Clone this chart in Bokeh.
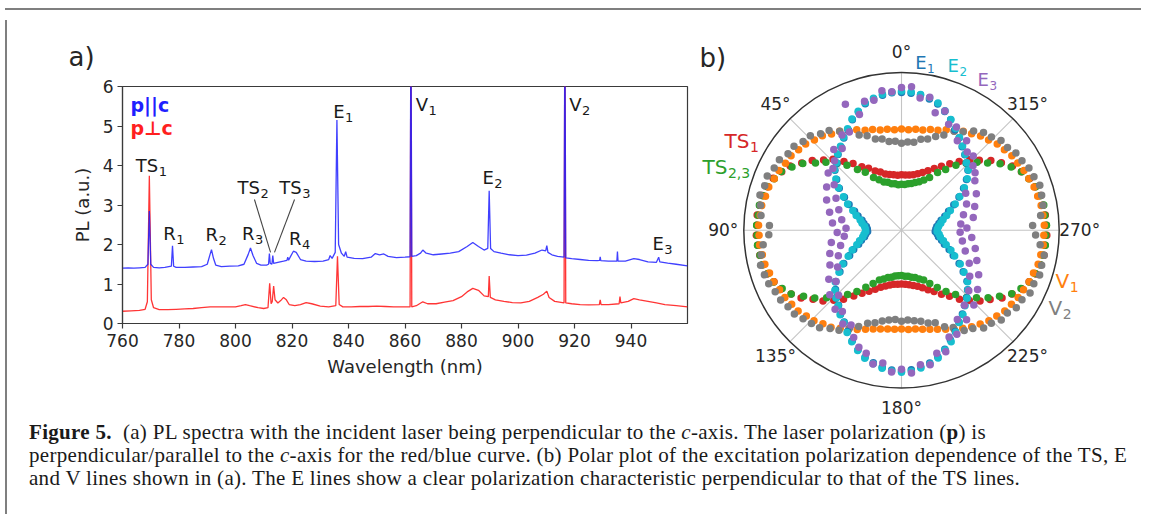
import numpy as np
from bokeh.plotting import figure
from bokeh.models import Range1d, FixedTicker, Div, Spacer
from bokeh.layouts import row, column
from bokeh.embed import file_html
from bokeh.resources import INLINE
from bokeh.core.properties import value

# ---------------- data: panel (a) PL spectra ----------------
blue_wl = [760.0, 762.0, 764.0, 766.0, 768.0, 769.0, 769.5, 770.0, 771.0, 773.0, 775.0,
           777.3, 777.7, 778.1, 779.0, 782.0, 785.0, 788.0, 790.0, 791.0, 791.5, 792.2,
           793.0, 795.0, 798.0, 801.0, 803.0, 804.5, 805.3, 806.2, 807.5, 809.0, 811.0,
           811.7, 812.0, 812.3, 812.9, 813.2, 813.5, 815.0, 817.0, 818.2, 818.5, 818.8,
           819.5, 820.5, 821.5, 823.0, 825.0, 828.0, 831.0, 833.0, 833.5, 834.2, 835.3,
           835.9, 836.5, 837.5, 838.5, 839.0, 839.5, 842.0, 845.0, 848.0, 849.5, 851.0,
           852.5, 854.0, 857.0, 860.0, 861.8, 862.1, 862.4, 864.0, 865.5, 866.3, 867.5,
           870.0, 873.0, 876.0, 879.0, 882.0, 884.0, 886.0, 888.0, 889.3, 889.8, 890.3,
           891.5, 894.0, 897.0, 900.0, 903.0, 906.0, 908.5, 909.8, 910.2, 910.6, 912.0,
           914.0, 916.3, 916.6, 916.9, 919.0, 922.0, 925.0, 928.0, 928.9, 929.1, 929.3,
           932.0, 935.0, 935.2, 935.4, 938.0, 941.0, 943.0, 946.0, 949.0, 949.8, 950.2,
           953.0, 956.0, 960.0]
blue_pl = [1.40, 1.41, 1.40, 1.41, 1.42, 1.50, 2.85, 1.50, 1.42, 1.41, 1.42,
           1.45, 1.97, 1.45, 1.42, 1.42, 1.43, 1.44, 1.50, 1.75, 1.87, 1.65,
           1.48, 1.44, 1.45, 1.46, 1.50, 1.75, 1.91, 1.72, 1.52, 1.48, 1.48,
           1.50, 1.77, 1.52, 1.50, 1.72, 1.52, 1.55, 1.58, 1.60, 1.68, 1.60,
           1.70, 1.83, 1.80, 1.62, 1.58, 1.57, 1.58, 1.62, 1.72, 1.65, 1.80,
           5.15, 2.00, 1.78, 1.70, 1.82, 1.68, 1.65, 1.64, 1.68, 1.77, 1.74,
           1.76, 1.70, 1.67, 1.68, 1.69, 8.00, 1.70, 1.72, 1.78, 1.86, 1.78,
           1.74, 1.76, 1.78, 1.82, 1.95, 2.05, 1.95, 1.86, 1.90, 3.36, 1.90,
           1.82, 1.78, 1.74, 1.72, 1.73, 1.78, 1.86, 1.84, 1.97, 1.80, 1.74,
           1.70, 1.68, 8.00, 1.66, 1.64, 1.62, 1.60, 1.59, 1.60, 1.69, 1.59,
           1.58, 1.58, 1.82, 1.58, 1.58, 1.64, 1.62, 1.56, 1.55, 1.68, 1.56,
           1.53, 1.50, 1.46]

red_wl = [760.0, 763.0, 766.0, 768.0, 768.8, 769.5, 770.2, 771.0, 773.0, 776.0, 779.0,
          782.0, 785.0, 788.0, 791.0, 794.0, 797.0, 800.0, 802.0, 803.5, 805.0, 808.0,
          810.0, 811.5, 812.1, 812.6, 813.0, 813.5, 814.0, 815.0, 816.0, 817.0, 818.0,
          819.0, 821.0, 823.0, 825.0, 827.0, 830.0, 833.0, 835.5, 836.1, 836.7, 838.0,
          841.0, 844.0, 847.0, 850.0, 853.0, 856.0, 859.0, 861.8, 862.1, 862.4, 864.0,
          866.3, 868.0, 871.0, 874.0, 877.0, 880.0, 882.0, 884.0, 886.0, 888.0, 889.5,
          889.8, 890.2, 892.0, 895.0, 898.0, 901.0, 904.0, 907.0, 909.0, 910.2, 911.0,
          913.0, 916.3, 916.6, 916.9, 919.0, 922.0, 925.0, 928.8, 929.1, 929.4, 932.0,
          935.8, 936.1, 936.4, 939.0, 941.0, 943.0, 946.0, 949.0, 952.0, 956.0, 960.0]
red_pl = [0.31, 0.32, 0.33, 0.36, 0.55, 3.74, 0.60, 0.40, 0.35, 0.35, 0.36,
          0.37, 0.38, 0.40, 0.42, 0.42, 0.42, 0.42, 0.45, 0.48, 0.45, 0.40,
          0.38, 0.40, 1.02, 0.50, 0.55, 0.95, 0.60, 0.52, 0.58, 0.66, 0.60,
          0.48, 0.45, 0.48, 0.53, 0.50, 0.44, 0.42, 0.45, 1.70, 0.48, 0.42,
          0.42, 0.43, 0.43, 0.44, 0.43, 0.42, 0.42, 0.42, 8.00, 0.42, 0.45,
          0.55, 0.50, 0.50, 0.54, 0.58, 0.68, 0.80, 0.89, 0.84, 0.70, 0.68,
          1.20, 0.66, 0.60, 0.56, 0.53, 0.52, 0.56, 0.66, 0.74, 0.82, 0.66,
          0.56, 0.52, 8.00, 0.52, 0.50, 0.48, 0.47, 0.48, 0.60, 0.48, 0.48,
          0.50, 0.68, 0.52, 0.56, 0.63, 0.60, 0.56, 0.52, 0.48, 0.45, 0.42]

x_ticks = [760, 780, 800, 820, 840, 860, 880, 900, 920, 940]
y_ticks = [0, 1, 2, 3, 4, 5, 6]

peak_names = ["TS", "R", "R", "R", "R", "TS", "TS", "E", "V", "E", "V", "E"]
peak_subs = ["1", "1", "2", "3", "4", "2", "3", "1", "1", "2", "2", "3"]

# ---------------- data: panel (b) polar (normalised PL vs angle) ----------------
angles_deg = list(range(0, 360, 4))

r_ts1 = [0.352, 0.349, 0.355, 0.361, 0.370, 0.392, 0.411, 0.445, 0.475, 0.523, 0.568, 0.625, 0.665, 0.718, 0.763, 0.815, 0.845, 0.878, 0.893, 0.910, 0.913, 0.920, 0.918,
         0.921, 0.916, 0.912, 0.906, 0.897, 0.872, 0.850, 0.808, 0.768, 0.712, 0.670, 0.618, 0.572, 0.515, 0.472, 0.438, 0.410, 0.385, 0.368, 0.355, 0.346, 0.343,
         0.341, 0.344, 0.349, 0.358, 0.369, 0.388, 0.414, 0.440, 0.479, 0.518, 0.572, 0.619, 0.670, 0.713, 0.769, 0.810, 0.851, 0.873, 0.897, 0.906, 0.917, 0.915, 0.922,
         0.919, 0.917, 0.911, 0.909, 0.892, 0.877, 0.846, 0.813, 0.764, 0.719, 0.664, 0.624, 0.569, 0.521, 0.478, 0.443, 0.412, 0.389, 0.373, 0.359, 0.354, 0.351]
r_ts23 = [0.292, 0.289, 0.298, 0.301, 0.316, 0.326, 0.350, 0.378, 0.433, 0.475, 0.538, 0.589, 0.645, 0.692, 0.755, 0.802, 0.848, 0.870, 0.896, 0.904, 0.915, 0.914, 0.919,
          0.917, 0.918, 0.911, 0.908, 0.890, 0.875, 0.842, 0.808, 0.749, 0.698, 0.639, 0.595, 0.532, 0.481, 0.427, 0.383, 0.345, 0.330, 0.312, 0.305, 0.294, 0.290,
          0.288, 0.293, 0.295, 0.305, 0.312, 0.330, 0.345, 0.382, 0.428, 0.480, 0.533, 0.594, 0.640, 0.697, 0.750, 0.807, 0.843, 0.875, 0.891, 0.907, 0.911, 0.917, 0.916,
          0.920, 0.914, 0.916, 0.905, 0.894, 0.871, 0.847, 0.803, 0.754, 0.693, 0.644, 0.590, 0.537, 0.476, 0.432, 0.379, 0.349, 0.327, 0.315, 0.302, 0.297, 0.290]
r_e1 = [0.873, 0.874, 0.864, 0.850, 0.834, 0.798, 0.766, 0.722, 0.690, 0.652, 0.626, 0.590, 0.568, 0.522, 0.476, 0.418, 0.370, 0.321, 0.290, 0.258, 0.242, 0.224, 0.217,
        0.215, 0.228, 0.238, 0.262, 0.286, 0.327, 0.366, 0.423, 0.471, 0.528, 0.563, 0.596, 0.621, 0.658, 0.686, 0.728, 0.768, 0.806, 0.838, 0.860, 0.878, 0.889,
        0.893, 0.887, 0.876, 0.861, 0.836, 0.803, 0.761, 0.727, 0.686, 0.657, 0.621, 0.595, 0.564, 0.527, 0.472, 0.422, 0.365, 0.326, 0.286, 0.262, 0.238, 0.228, 0.214,
        0.218, 0.225, 0.241, 0.259, 0.289, 0.322, 0.369, 0.421, 0.475, 0.523, 0.567, 0.592, 0.625, 0.654, 0.689, 0.722, 0.766, 0.801, 0.833, 0.851, 0.865, 0.871]
r_e2 = [0.882, 0.877, 0.871, 0.855, 0.840, 0.803, 0.772, 0.728, 0.695, 0.658, 0.630, 0.594, 0.572, 0.528, 0.482, 0.425, 0.380, 0.333, 0.302, 0.270, 0.254, 0.236, 0.229,
        0.227, 0.239, 0.250, 0.274, 0.298, 0.337, 0.376, 0.430, 0.478, 0.533, 0.568, 0.598, 0.626, 0.662, 0.690, 0.735, 0.775, 0.812, 0.845, 0.866, 0.884, 0.895,
        0.900, 0.896, 0.883, 0.868, 0.843, 0.808, 0.774, 0.733, 0.691, 0.663, 0.626, 0.599, 0.567, 0.532, 0.478, 0.430, 0.375, 0.338, 0.298, 0.274, 0.250, 0.240, 0.226,
        0.228, 0.237, 0.253, 0.271, 0.301, 0.334, 0.379, 0.427, 0.481, 0.529, 0.571, 0.595, 0.629, 0.659, 0.694, 0.731, 0.769, 0.806, 0.839, 0.858, 0.869, 0.879]
r_e3 = [0.905, 0.880, 0.893, 0.842, 0.851, 0.780, 0.875, 0.705, 0.712, 0.640, 0.668, 0.612, 0.585, 0.590, 0.515, 0.548, 0.462, 0.512, 0.418, 0.470, 0.385, 0.440, 0.352,
        0.408, 0.365, 0.452, 0.398, 0.478, 0.432, 0.505, 0.468, 0.556, 0.528, 0.612, 0.574, 0.655, 0.638, 0.702, 0.681, 0.745, 0.790, 0.812, 0.868, 0.851, 0.902,
        0.882, 0.908, 0.861, 0.872, 0.812, 0.821, 0.742, 0.748, 0.668, 0.702, 0.621, 0.660, 0.574, 0.612, 0.522, 0.565, 0.478, 0.515, 0.425, 0.482, 0.392, 0.448, 0.372,
        0.415, 0.378, 0.462, 0.405, 0.488, 0.445, 0.528, 0.470, 0.561, 0.592, 0.610, 0.655, 0.648, 0.702, 0.668, 0.742, 0.735, 0.805, 0.775, 0.862, 0.846, 0.912]
r_v1 = [0.642, 0.638, 0.647, 0.650, 0.665, 0.675, 0.698, 0.712, 0.740, 0.755, 0.781, 0.795, 0.818, 0.828, 0.845, 0.850, 0.865, 0.870, 0.885, 0.889, 0.900, 0.901, 0.907,
        0.904, 0.905, 0.896, 0.893, 0.880, 0.874, 0.860, 0.854, 0.840, 0.832, 0.812, 0.799, 0.775, 0.760, 0.733, 0.712, 0.690, 0.668, 0.652, 0.641, 0.632, 0.630,
        0.627, 0.631, 0.633, 0.642, 0.654, 0.668, 0.688, 0.710, 0.733, 0.757, 0.776, 0.798, 0.813, 0.831, 0.841, 0.854, 0.861, 0.874, 0.880, 0.893, 0.897, 0.904, 0.903,
        0.906, 0.902, 0.899, 0.890, 0.884, 0.871, 0.864, 0.851, 0.844, 0.828, 0.817, 0.795, 0.780, 0.756, 0.739, 0.713, 0.697, 0.675, 0.665, 0.650, 0.646, 0.639]
r_v2 = [0.552, 0.566, 0.568, 0.592, 0.601, 0.638, 0.660, 0.712, 0.740, 0.781, 0.798, 0.832, 0.840, 0.865, 0.868, 0.894, 0.898, 0.918, 0.912, 0.925, 0.908, 0.896, 0.838,
        0.842, 0.882, 0.903, 0.921, 0.914, 0.908, 0.891, 0.885, 0.868, 0.862, 0.840, 0.822, 0.808, 0.771, 0.748, 0.700, 0.668, 0.628, 0.610, 0.588, 0.575, 0.568,
        0.578, 0.571, 0.580, 0.590, 0.612, 0.625, 0.671, 0.698, 0.750, 0.770, 0.810, 0.820, 0.851, 0.852, 0.878, 0.882, 0.907, 0.905, 0.921, 0.916, 0.919, 0.884, 0.851,
        0.832, 0.887, 0.911, 0.916, 0.922, 0.906, 0.899, 0.882, 0.875, 0.853, 0.849, 0.821, 0.809, 0.778, 0.737, 0.710, 0.660, 0.633, 0.602, 0.590, 0.563, 0.561]

polar_tick_deg = [0, 45, 90, 135, 180, 225, 270, 315]
polar_tick_labels = ["0°", "45°", "90°", "135°", "180°", "225°", "270°", "315°"]

series_names = ["TS", "TS", "V", "V", "E", "E", "E"]
series_subs = ["1", "2,3", "1", "2", "1", "2", "3"]

# ---------------- styling ----------------
FONT = "DejaVu Sans"
TXT = "#262626"
C_TS1, C_TS23, C_E1, C_E2, C_E3, C_V1, C_V2 = ("#d62728", "#2ca02c", "#1f77b4", "#17becf",
                                                "#9467bd", "#ff7f0e", "#7f7f7f")
ADV = {"T": 0.611, "S": 0.635, "E": 0.632, "R": 0.695, "V": 0.684}


def text_w(s, size):
    return sum(ADV.get(ch, 0.6) for ch in s) * size


def sub_label(p, x, y, main, sub, color, size, sub_size):
    p.text(x=[x], y=[y], text=[main], y_offset=-2, text_font=value(FONT), text_font_size=f"{size}px",
           text_align="left", text_baseline="middle", text_color=color)
    p.text(x=[x], y=[y], text=[sub], x_offset=text_w(main, size) + 0.5, y_offset=size * 0.33 - 2,
           text_font=value(FONT), text_font_size=f"{sub_size}px",
           text_align="left", text_baseline="middle", text_color=color)


# ---------------- panel (a) ----------------
pa = figure(width=680, height=400, x_range=Range1d(760, 960), y_range=Range1d(0, 6),
            output_backend="svg", toolbar_location=None, title="a)",
            min_border_left=110, min_border_right=5, min_border_top=71, min_border_bottom=92)
pa.frame_align = False
pa.title.text_font = FONT
pa.title.text_font_size = "26px"
pa.title.text_font_style = "normal"
pa.title.text_color = TXT
pa.title.align = "left"
pa.title.offset = -54
pa.title.standoff = 29
pa.grid.visible = False
pa.outline_line_color = "#3a3a3a"
pa.outline_line_width = 1.2
pa.xaxis.ticker = FixedTicker(ticks=x_ticks)
pa.yaxis.ticker = FixedTicker(ticks=y_ticks)
pa.xaxis.axis_label = "Wavelength (nm)"
pa.yaxis.axis_label = "PL (a.u.)"
for ax in (pa.xaxis[0], pa.yaxis[0]):
    ax.major_label_text_font = FONT
    ax.major_label_text_font_size = "17px"
    ax.major_label_text_color = TXT
    ax.axis_label_text_font = FONT
    ax.axis_label_text_font_size = "18px"
    ax.axis_label_text_font_style = "normal"
    ax.axis_label_text_color = TXT
    ax.major_tick_out = 5
    ax.major_tick_in = 0
    ax.minor_tick_out = 0
    ax.minor_tick_in = 0
    ax.axis_line_color = "#3a3a3a"
    ax.axis_line_width = 1.2
    ax.major_tick_line_color = "#3a3a3a"
    ax.major_tick_line_width = 1.2
pa.xaxis.major_label_standoff = 5
pa.yaxis.major_label_standoff = 4
pa.xaxis.axis_label_standoff = 6
pa.yaxis.axis_label_standoff = 7

pa.line(red_wl, red_pl, line_color="#ff1f1f", line_width=1.3, line_alpha=0.9)
pa.line(blue_wl, blue_pl, line_color="#1f1fff", line_width=1.3, line_alpha=0.85)

# peak labels (positions: layout)
lab_x = [764.7, 774.4, 789.4, 802.3, 818.9, 800.7, 815.5, 834.6, 863.8, 887.4, 918.1, 947.6]
lab_y = [3.96, 2.23, 2.20, 2.23, 2.10, 3.39, 3.39, 5.32, 5.49, 3.65, 5.49, 1.97]
for nm, sb, lx, ly in zip(peak_names, peak_subs, lab_x, lab_y):
    sub_label(pa, lx, ly, nm, sb, "#1a1a1a", 18, 13)

pa.segment(x0=[806.7, 820.9], y0=[3.14, 3.14], x1=[812.4, 813.8], y1=[1.80, 1.80],
           line_color="#444444", line_width=1.1)

pa.text(x=[762.8], y=[5.54], text=["p||c"], text_font=value(FONT), text_font_size="19px",
        text_font_style="bold", text_color="#1f1fff", text_align="left", text_baseline="middle")
pa.text(x=[762.8], y=[4.96], text=["p⊥c"], text_font=value(FONT), text_font_size="19px",
        text_font_style="bold", text_color="#ff1f1f", text_align="left", text_baseline="middle")

# ---------------- panel (b) ----------------
PX = 157.7
CX, CY = 209.0, 214.7
WB, HB = 454, 408
pb = figure(width=WB, height=HB, output_backend="svg", toolbar_location=None,
            x_range=Range1d(-CX / PX, (WB - CX) / PX), y_range=Range1d(-(HB - CY) / PX, CY / PX),
            x_axis_type=None, y_axis_type=None, min_border=0)
pb.frame_align = False
pb.outline_line_color = None
pb.grid.visible = False

sp = np.radians(polar_tick_deg)
pb.segment(x0=0, y0=0, x1=-np.sin(sp), y1=np.cos(sp), line_color="#c4c4c4", line_width=1.1)
pb.circle(x=[0], y=[0], radius=1.0, fill_color=None, line_color="#333333", line_width=1.5)

th = np.radians(angles_deg)
for r, c in [(r_ts1, C_TS1), (r_ts23, C_TS23), (r_v1, C_V1), (r_v2, C_V2),
             (r_e1, C_E1), (r_e2, C_E2), (r_e3, C_E3)]:
    rr = np.array(r)
    pb.scatter(x=-rr * np.sin(th), y=rr * np.cos(th), size=7.5, fill_color=c, line_color=None)

pb.text(x=-1.13 * np.sin(sp), y=1.13 * np.cos(sp), text=polar_tick_labels,
        text_font=value(FONT), text_font_size="17px", text_color=TXT,
        text_align="center", text_baseline="middle")

# series labels (positions: layout)
s_x = [-1.122, -1.262, 0.977, 0.932, 0.087, 0.292, 0.482]
s_y = [0.556, 0.391, -0.332, -0.503, 1.048, 1.032, 0.943]
s_c = [C_TS1, C_TS23, C_V1, C_V2, C_E1, C_E2, C_E3]
s_fs = [20, 20, 20, 20, 18, 18, 18]
for nm, sb, lx, ly, c, fs in zip(series_names, series_subs, s_x, s_y, s_c, s_fs):
    sub_label(pb, lx, ly, nm, sb, c, fs, int(fs * 0.72))

pb.text(x=[-1.281], y=[1.089], text=["b)"], text_font=value(FONT), text_font_size="26px",
        text_color=TXT, text_align="left", text_baseline="middle")

# ---------------- caption and frame ----------------
cap_html = (
    '<div style="font-family:\'Liberation Serif\',serif;font-size:21px;line-height:23px;'
    'letter-spacing:0.3px;color:#1a1a1a;white-space:nowrap;margin-top:-7px;padding:0 0 0 12px;">'
    '<b>Figure 5.</b>&nbsp;&nbsp;(a) PL spectra with the incident laser being perpendicular to the '
    '<i>c</i>-axis. The laser polarization (<b>p</b>) is<br>'
    'perpendicular/parallel to the <i>c</i>-axis for the red/blue curve. (b) Polar plot of the '
    'excitation polarization dependence of the TS, E<br>'
    'and V lines shown in (a). The E lines show a clear polarization characteristic perpendicular '
    'to that of the TS lines.</div>')
caption = Div(text=cap_html, width=1134, height=86)

top_line = Div(text="", width=1136, height=2, styles={"background-color": "#7f7f7f"})
left_line = Div(text="", width=2, height=494, styles={"background-color": "#7f7f7f"})
body = column(row(pa, pb, spacing=0), caption, spacing=0)
root = column(Spacer(width=1136, height=3), top_line, row(left_line, body, spacing=0), spacing=0)

open("out.html", "w").write(file_html(root, INLINE))
